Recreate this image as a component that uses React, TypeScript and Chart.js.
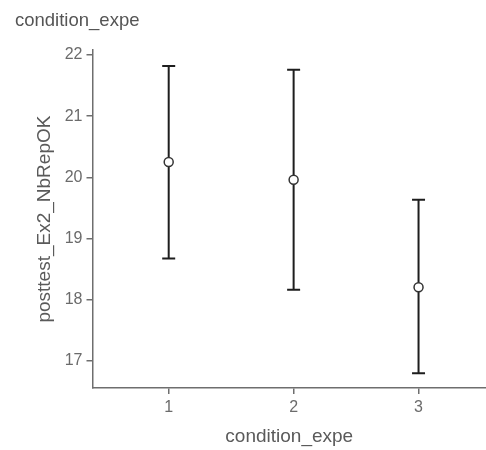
import React, { useEffect, useRef } from "react";
import { Chart, registerables } from "chart.js";

Chart.register(...registerables);

const categories = [1, 2, 3];
const means = [20.25, 19.96, 18.2];
const lower = [18.67, 18.16, 16.79];
const upper = [21.82, 21.76, 19.63];
const yTicks = [17, 18, 19, 20, 21, 22];
const xTicks = [1, 2, 3];

const errorBarPlugin = {
  id: "errorBars",
  beforeDatasetsDraw(chart: any) {
    const { ctx, scales } = chart;
    const xs = scales.x;
    const ys = scales.y;
    ctx.save();
    ctx.strokeStyle = "#1e1e1e";
    ctx.lineWidth = 2;
    const cap = 6.5;
    categories.forEach((c, i) => {
      const x = xs.getPixelForValue(c);
      const yl = ys.getPixelForValue(lower[i]);
      const yu = ys.getPixelForValue(upper[i]);
      ctx.beginPath();
      ctx.moveTo(x, yl);
      ctx.lineTo(x, yu);
      ctx.moveTo(x - cap, yl);
      ctx.lineTo(x + cap, yl);
      ctx.moveTo(x - cap, yu);
      ctx.lineTo(x + cap, yu);
      ctx.stroke();
    });
    ctx.restore();
  },
};

export default function App() {
  const ref = useRef<HTMLCanvasElement | null>(null);
  useEffect(() => {
    if (!ref.current) return;
    const axisColor = "#6e6e6e";
    const chart = new Chart(ref.current, {
      type: "scatter",
      data: {
        datasets: [
          {
            data: categories.map((c, i) => ({ x: c, y: means[i] })),
            pointRadius: 4.5,
            pointHoverRadius: 4.5,
            pointBackgroundColor: "#ffffff",
            pointBorderColor: "#333333",
            pointBorderWidth: 1.5,
            clip: false,
          },
        ],
      },
      options: {
        animation: false,
        responsive: true,
        maintainAspectRatio: false,
        layout: { autoPadding: false, padding: { left: 15, right: 0, top: 0, bottom: 0 } },
        plugins: {
          legend: { display: false },
          tooltip: { enabled: false },
          title: {
            display: true,
            text: "condition_expe",
            align: "start",
            color: "#555555",
            font: { family: "'Liberation Sans', Arial, sans-serif", size: 18.5, weight: "normal" },
            padding: { top: 10, bottom: 18 },
          },
        },
        scales: {
          x: {
            type: "linear",
            min: 0.39,
            max: 3.54,
            afterBuildTicks: (s: any) => {
              s.ticks = xTicks.map((v) => ({ value: v }));
            },
            afterFit: (s: any) => {
              s.height = 62;
            },
            grid: { drawOnChartArea: false, drawTicks: true, tickLength: 6, color: axisColor, lineWidth: 1.5 },
            border: { display: true, color: axisColor, width: 1.5 },
            ticks: {
              color: "#6b6b6b",
              font: { family: "'Liberation Sans', Arial, sans-serif", size: 16 },
              padding: 4,
              callback: (v: any) => String(v),
            },
            title: {
              display: true,
              text: "condition_expe",
              color: "#5a5a5a",
              font: { family: "'Liberation Sans', Arial, sans-serif", size: 19 },
              padding: { top: 0, bottom: 1.5 },
            },
          },
          y: {
            type: "linear",
            min: 16.55,
            max: 22.08,
            afterBuildTicks: (s: any) => {
              s.ticks = yTicks.map((v) => ({ value: v }));
            },
            afterFit: (s: any) => {
              s.width = 77.5;
            },
            grid: { drawOnChartArea: false, drawTicks: true, tickLength: 6, color: axisColor, lineWidth: 1.5 },
            border: { display: true, color: axisColor, width: 1.5 },
            ticks: {
              color: "#6b6b6b",
              font: { family: "'Liberation Sans', Arial, sans-serif", size: 16 },
              padding: 4,
              callback: (v: any) => String(v),
            },
            title: {
              display: true,
              text: "posttest_Ex2_NbRepOK",
              color: "#5a5a5a",
              font: { family: "'Liberation Sans', Arial, sans-serif", size: 19 },
              padding: { top: 18, bottom: 0 },
            },
          },
        },
      },
      plugins: [errorBarPlugin],
    });
    return () => chart.destroy();
  }, []);
  return (
    <div style={{ position: "fixed", left: 0, top: 0, width: 486, height: 450, background: "#ffffff" }}>
      <canvas ref={ref} />
    </div>
  );
}
